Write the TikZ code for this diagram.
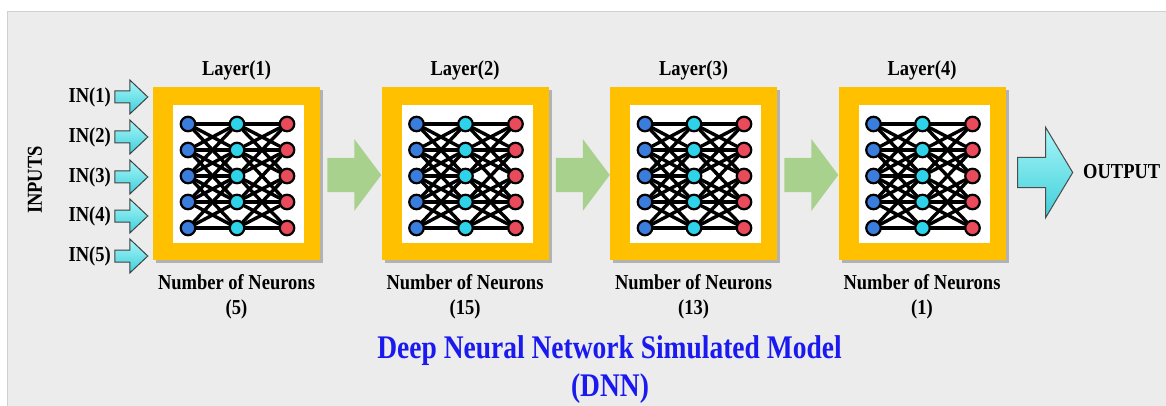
\documentclass[tikz,border=0pt]{standalone}
\usepackage{fontspec}
\setmainfont{Liberation Serif}
\usepackage{graphicx}
\usetikzlibrary{shadows,calc}
\definecolor{panel}{HTML}{ECECEC}
\definecolor{panelline}{HTML}{D0D0D0}
\definecolor{orng}{HTML}{FFC000}
\definecolor{grn}{HTML}{A9D18E}
\definecolor{cyanA}{HTML}{A8F6F8}
\definecolor{cyanB}{HTML}{3FCFDA}
\definecolor{nblue}{HTML}{3B7DDD}
\definecolor{ncyan}{HTML}{2ED3EA}
\definecolor{nred}{HTML}{E94B5B}
\definecolor{ttl}{HTML}{1A1AF0}
\pgfdeclarelayer{front}
\pgfsetlayers{main,front}
\newcommand\tallbox[2][1.15]{\scalebox{1}[#1]{#2}}
\newcommand\fatarrow[6]{\draw[#1] (#2) -- ++(-#4,-#6) -- ++(0,#6-#5) -- ++(#4-#3,0) -- ++(0,2*#5) -- ++(#3-#4,0) -- ++(0,#6-#5) -- cycle;}
\tikzset{
  layerbox/.style={fill=orng, minimum width=167pt, minimum height=173pt, inner sep=0pt,
    drop shadow={shadow xshift=3pt, shadow yshift=-3pt, fill=black!45, opacity=0.6}},
  innerbox/.style={fill=white, minimum width=131pt, minimum height=138pt, inner sep=0pt},
  lbl/.style={font=\fontsize{18.5}{20}\selectfont\bfseries, inner sep=0pt, text=black},
  ttlstyle/.style={font=\fontsize{27.5}{30}\selectfont\bfseries, inner sep=0pt, text=ttl},
  neuron/.style={circle, draw=black, line width=2.2pt, minimum size=14.5pt, inner sep=0pt},
  edge/.style={draw=black, line width=3.4pt, line cap=round},
  grnarrow/.style={fill=grn, draw=none},
  inarrow/.style={top color=cyanA, bottom color=cyanB, draw=black!75, line width=1pt, line join=miter},
  outarrow/.style={top color=cyanA, bottom color=cyanB, draw=black!70, line width=1pt, line join=miter},
}
\begin{document}
\begin{tikzpicture}[x=1pt,y=-1pt]
\fill[white] (0,0) rectangle (1166,406);
\useasboundingbox (0,0) rectangle (1166,406);
\filldraw[fill=panel, draw=panelline, line width=1pt] (7,12) rectangle (1172,412);

\foreach \k/\n in {1/5,2/15,3/13,4/1} {
  \pgfmathsetmacro\cx{236.5+228.5*(\k-1)}
  \node[layerbox] (L\k) at (\cx,173.5) {};
  \node[innerbox] (W\k) at (\cx+2,174) {};
  \node[lbl, anchor=base] (T\k) at (\cx,76) {\tallbox{Layer(\k)}};
  \node[lbl, anchor=base] (N\k) at (\cx,289) {\tallbox{Number of Neurons}};
  \node[lbl, anchor=base] (C\k) at (\cx,314) {\tallbox{(\n)}};
  \begin{pgfonlayer}{front}
  \foreach \c/\dx/\col in {1/-48.5/nblue,2/0.5/ncyan,3/50.5/nred}
    \foreach \r in {1,...,5}
      \node[neuron, fill=\col] (n-\k-\c-\r) at (\cx+\dx, 176+26*\r-78) {};
  \end{pgfonlayer}
}

\foreach \k in {1,...,4}
  \foreach \i in {1,...,5}
    \foreach \j in {1,...,5} {
      \pgfmathtruncatemacro\d{abs(\i-\j)}
      \ifnum\d<3
        \draw[edge] (n-\k-1-\i) -- (n-\k-2-\j);
        \pgfmathtruncatemacro\mid{(\i==3)&&(\j==3)}
        \ifnum\mid=0
          \draw[edge] (n-\k-2-\i) -- (n-\k-3-\j);
        \fi
      \fi
    }

% green arrows between layers
\foreach \a/\b in {1/2,2/3,3/4} {
  \coordinate (g\a) at ($(L\b.west)+(0,1.5)$);
  \fatarrow{grnarrow}{g\a}{54}{27}{17}{36}
}

% inputs
\foreach \i/\y in {1/97,2/137,3/177,4/216,5/256} {
  \node[lbl, anchor=east] (IN\i) at (111,\y) {\tallbox{IN(\i)}};
  \coordinate (it\i) at ($(L1.west|-IN\i.east)+(-5,0)$);
  \fatarrow{inarrow}{it\i}{33}{18}{6}{17}
}
\node[lbl, rotate=90] (INP) at (35,180) {\tallbox{INPUTS}};

% output
\coordinate (ot) at ($(L4.east)+(67,-1)$);
\fatarrow{outarrow}{ot}{55}{27}{15}{45}
\node[lbl, anchor=west] (OUT) at (1083,172) {\tallbox{OUTPUT}};

% title
\node[ttlstyle, anchor=base] (TT) at (609.5,358) {\tallbox[1.2]{Deep Neural Network Simulated Model}};
\node[ttlstyle, anchor=base] (TD) at (610,396) {\tallbox[1.2]{(DNN)}};
\end{tikzpicture}
\end{document}
